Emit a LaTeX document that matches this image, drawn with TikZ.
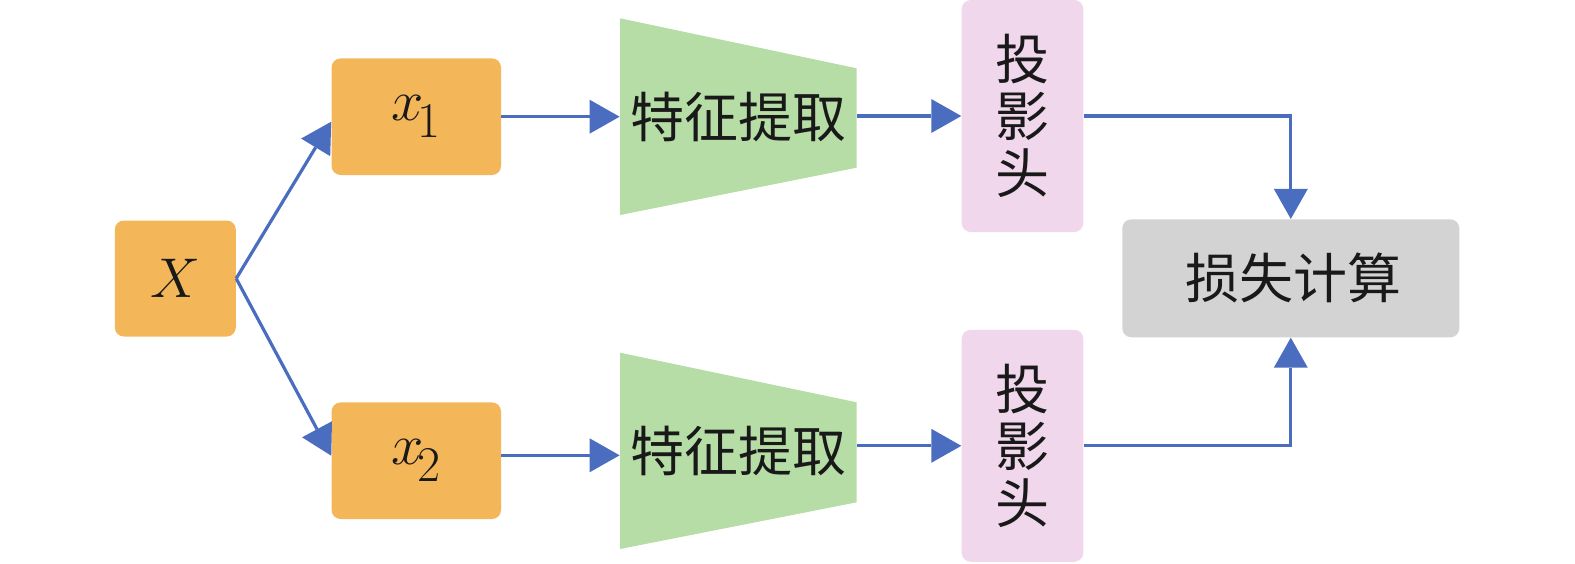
\RequirePackage{fix-cm}
\documentclass[tikz,border=0pt]{standalone}
\usepackage{fontspec}
\newfontfamily\cjk{Noto Sans CJK SC}
\usetikzlibrary{arrows.meta,calc}
\definecolor{boxorange}{HTML}{F3B75A}
\definecolor{boxgreen}{HTML}{B5DDA5}
\definecolor{boxpink}{HTML}{F0D7EC}
\definecolor{boxgray}{HTML}{D3D3D3}
\definecolor{linkblue}{HTML}{4A6DBF}
\newcommand\subidx[1]{\kern-3pt\raisebox{-8.5pt}{\fontsize{25}{25}\selectfont$#1$}}
\begin{document}
\begin{tikzpicture}[x=0.5pt,y=-0.5pt,
  blk/.style={rectangle, rounded corners=4.5pt, inner sep=0pt, text=black!90,
    font=\fontsize{27}{28.5}\selectfont},
  inbox/.style={blk, font=\fontsize{29}{30}\selectfont, fill=boxorange, minimum width=84.7pt, minimum height=58.3pt},
  srcbox/.style={blk, font=\fontsize{28}{30}\selectfont, fill=boxorange, minimum width=60.5pt, minimum height=58pt},
  featbox/.style={blk, rounded corners=0pt, minimum width=118.3pt, minimum height=98.3pt},
  projbox/.style={blk, fill=boxpink, minimum width=60.8pt, minimum height=116pt, align=center},
  lossbox/.style={blk, fill=boxgray, minimum width=168.5pt, minimum height=59pt},
  arr/.style={draw=linkblue, line width=1.6pt,
    -{Triangle[length=15pt,width=17pt,line width=0pt]}}
]
\useasboundingbox (0,0) rectangle (1575,563);

% trapezoids (feature extractors)
\fill[boxgreen] (620,18.3) -- (856.7,68.3) -- (856.7,167.7) -- (620,215) -- cycle;
\fill[boxgreen] (620,352.7) -- (856.7,402.3) -- (856.7,502.3) -- (620,549) -- cycle;

\node[srcbox] (X) at (175.3,278.5) {\raisebox{-2pt}{$X$}};
\node[inbox] (x1) at (416.3,116.7) {\raisebox{-1pt}{$x$\subidx{1}}};
\node[inbox] (x2) at (416.3,460.7) {\raisebox{-1pt}{$x$\subidx{2}}};
\node[featbox] (f1) at (738.3,116.7) {\cjk 特征提取};
\node[featbox] (f2) at (738.3,450.8) {\cjk 特征提取};
\node[projbox] (p1) at (1022.5,116) {\cjk 投\\ \cjk 影\\ \cjk 头};
\node[projbox] (p2) at (1022.5,445.8) {\cjk 投\\ \cjk 影\\ \cjk 头};
\node[lossbox] (loss) at (1290.8,278.3) {\hspace{2.5pt}\cjk 损失计算};

% connectors
\draw[arr] (X.east) -- ($(x1.west)+(0,5)$);
\draw[arr] (X.east) -- ($(x2.west)+(0,-5)$);
\draw[arr] (x1.east) -- (f1.west);
\draw[arr] ($(x2.east)+(0,-5.4)$) coordinate (s2) -- (s2 -| f2.west);
\draw[arr] (f1.east |- p1.west) -- (p1.west);
\draw[arr] (f2.east |- p2.west) -- (p2.west);
\draw[arr] (p1.east) -| (loss.north);
\draw[arr] (p2.east) -| (loss.south);
\end{tikzpicture}
\end{document}
